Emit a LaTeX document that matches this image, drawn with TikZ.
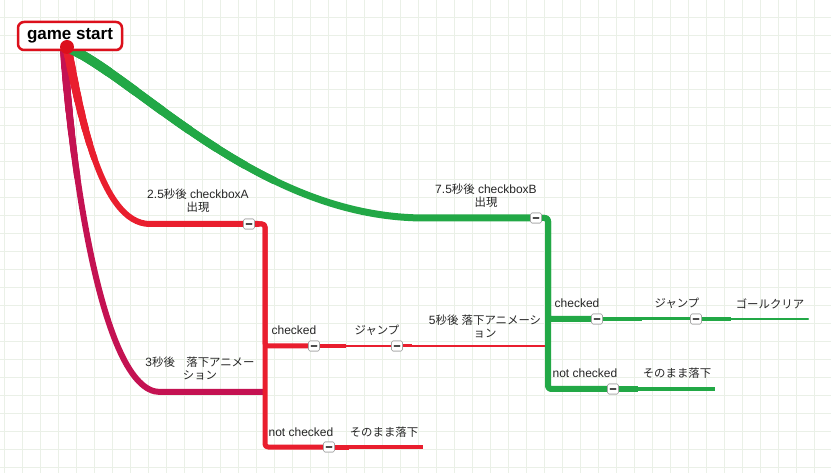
\documentclass[tikz,border=0pt]{standalone}
\usepackage{fontspec}
\setmainfont{Liberation Sans}
\newfontfamily\cjk[Scale=0.95]{Noto Sans CJK JP}
\usetikzlibrary{shadows,calc}
\definecolor{gridc}{RGB}{234,240,231}
\definecolor{mred}{RGB}{233,30,46}
\definecolor{mcrim}{RGB}{196,18,82}
\definecolor{mgreen}{RGB}{34,168,70}
\definecolor{bred}{RGB}{220,16,28}
\tikzset{
  lbl/.style={font=\fontsize{12}{13}\selectfont, align=center, inner sep=0pt, text=black!85},
  btn/.style={draw=black!35, fill=white, rounded corners=1.5pt, minimum width=11pt,
    minimum height=10pt, inner sep=0pt, line width=0.6pt,
    path picture={\draw[line width=1.6pt, black!70]
      ([xshift=-2.7pt]path picture bounding box.center) --
      ([xshift=2.7pt]path picture bounding box.center);}},
  startbox/.style={draw=bred, fill=white, line width=2.5pt, rounded corners=6pt,
    minimum width=104pt, minimum height=28pt, inner sep=0pt,
    font=\fontsize{17}{19}\bfseries,
    drop shadow={opacity=0.25, shadow xshift=1pt, shadow yshift=-1.5pt}},
  taperpart/.style={dash pattern=on #1 off 5000pt},
}
\begin{document}
\begin{tikzpicture}[x=1pt, y=-1pt, line cap=round, line join=round]
\useasboundingbox (0,0) rectangle (831,473);
\fill[white] (0,0) rectangle (831,473);
% grid
\foreach \gx in {4,22,...,831} \draw[gridc, line width=0.7pt] (\gx,0) -- (\gx,473);
\foreach \gy in {17,35,...,473} \draw[gridc, line width=0.7pt] (0,\gy) -- (831,\gy);

% coordinates
\coordinate (root) at (67,47);
\coordinate (rootc) at (64,50);
\coordinate (aA) at (150,224);
\coordinate (aE) at (258,224);
\coordinate (aV) at (265,224);
\coordinate (cA) at (160,392);
\coordinate (cE) at (263,392);
\coordinate (gA) at (425,218);
\coordinate (gE) at (541,218);
\coordinate (gV) at (548,218);
\coordinate (rcEnd) at (548,346);
\coordinate (rnEnd) at (423,447);
\coordinate (gcEnd) at (808,319);
\coordinate (gnEnd) at (715,389);

% buttons (positions)
\node[btn] (bA) at (249,224) {};
\node[btn] (bG) at (536,218) {};
\node[btn] (rc1) at (314,346) {};
\node[btn] (rc2) at (397,346) {};
\node[btn] (rn1) at (329,447) {};
\node[btn] (gc1) at (597,319) {};
\node[btn] (gc2) at (696,319) {};
\node[btn] (gn1) at (613,389) {};

% crimson branch: 3 seconds
\draw[mcrim, line width=6pt] (rootc) .. controls (70,150) and (100,392) .. (cA) -- (cE);
\foreach \i in {1,...,6}
  \draw[mcrim, line width={6pt+0.3pt*\i}, taperpart={150pt-22pt*\i}]
    (rootc) .. controls (70,150) and (100,392) .. (cA);

% red branch: 2.5 seconds
\draw[mred, line width=6pt] (root) .. controls (80,110) and (100,224) .. (aA) -- (aE);
\foreach \i in {1,...,8}
  \draw[mred, line width={6pt+0.4pt*\i}, taperpart={130pt-15pt*\i}]
    (root) .. controls (80,110) and (100,224) .. (aA);
% red children
\draw[mred, line width=5pt, rounded corners=3pt] (aE) -- (aV) -- (265,346) -- (rc1.center);
\draw[mred, line width=5pt, rounded corners=3pt] (aE) -- (aV) -- (265,447) -- (rn1.center);
\draw[mred, line width=2.6pt] (rc1.center) -- (rc2.center);
\draw[mred, line width=4pt, line cap=butt] (rc1.center) -- ++(32,0);
\draw[mred, line width=2pt] (rc2.center) -- (rcEnd);
\draw[mred, line width=3pt, line cap=butt] (rc2.center) -- ++(15,0);
\draw[mred, line width=4pt, line cap=butt] (rn1.center) -- (rnEnd);
\draw[mred, line width=5pt, line cap=butt] (rn1.center) -- ++(20,0);

% green branch: 7.5 seconds
\draw[mgreen, line width=7pt] (root) .. controls (140,80) and (260,218) .. (gA) -- (gE);
\foreach \i in {1,...,8}
  \draw[mgreen, line width={7pt+0.35pt*\i}, taperpart={280pt-33pt*\i}]
    (root) .. controls (140,80) and (260,218) .. (gA);
% green children
\draw[mgreen, line width=6pt, rounded corners=3pt] (gE) -- (gV) -- (548,319) -- (gc1.center);
\draw[mgreen, line width=6pt, rounded corners=3pt] (gE) -- (gV) -- (548,389) -- (gn1.center);
\draw[mgreen, line width=3pt] (gc1.center) -- (gc2.center);
\draw[mgreen, line width=4.5pt, line cap=butt] (gc1.center) -- ++(45,0);
\draw[mgreen, line width=2.4pt] (gc2.center) -- (gcEnd);
\draw[mgreen, line width=3.2pt, line cap=butt] (gc2.center) -- ++(35,0);
\draw[mgreen, line width=4pt, line cap=butt] (gn1.center) -- (gnEnd);
\draw[mgreen, line width=5.5pt, line cap=butt] (gn1.center) -- ++(25,0);

% redraw buttons on top
\foreach \b in {bA,bG,rc1,rc2,rn1,gc1,gc2,gn1}
  \node[btn] at (\b) {};

% labels
\node[lbl] (tA) at (198,201) {2.5{\cjk 秒後} checkboxA\\{\cjk 出現}};
\node[lbl] (tG) at (486,196) {7.5{\cjk 秒後} checkboxB\\{\cjk 出現}};
\node[lbl] (tC) at (200,369) {3{\cjk 秒後　落下アニメー}\\{\cjk ション}};
\node[lbl] (trc) at (294,330) {checked};
\node[lbl] (trj) at (377,330) {\cjk ジャンプ};
\node[lbl] (tr5) at (485,327) {5{\cjk 秒後} {\cjk 落下アニメーシ}\\{\cjk ョン}};
\node[lbl] (trn) at (301,432) {not checked};
\node[lbl] (trs) at (384,432) {\cjk そのまま落下};
\node[lbl] (tgc) at (577,303) {checked};
\node[lbl] (tgj) at (677,303) {\cjk ジャンプ};
\node[lbl] (tgg) at (770,304) {\cjk ゴールクリア};
\node[lbl] (tgn) at (585,373) {not checked};
\node[lbl] (tgs) at (677,373) {\cjk そのまま落下};

% start node
\node[startbox] (start) at (70,36) {game start};
\fill[bred] (root) circle (7pt);
\end{tikzpicture}
\end{document}
